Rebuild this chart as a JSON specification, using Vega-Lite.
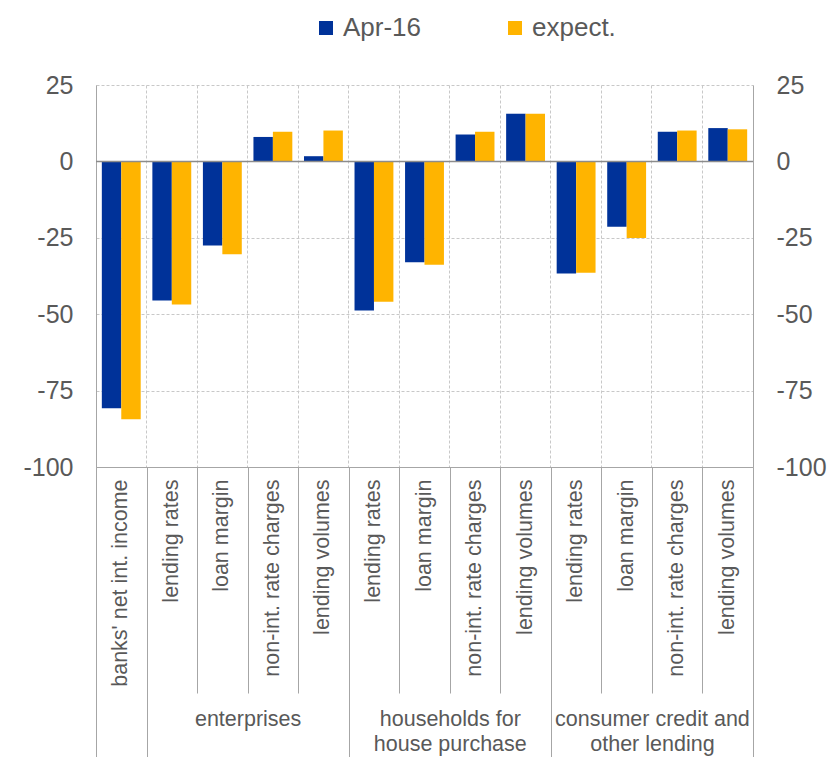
{
  "$schema": "https://vega.github.io/schema/vega-lite/v6.json",
  "width": 657,
  "height": 382,
  "autosize": {"type": "none"},
  "padding": {"left": 96, "top": 85, "right": 84, "bottom": 290},
  "background": "white",
  "config": {
    "view": {"stroke": null},
    "font": "Liberation Sans",
    "axis": {"labelFont": "Liberation Sans", "labelColor": "#595959"},
    "legend": {"labelFont": "Liberation Sans", "labelColor": "#595959"}
  },
  "datasets": {
    "bars": [
      {"cat": "01|banks' net int. income", "series": "Apr-16", "value": -80.8},
      {"cat": "01|banks' net int. income", "series": "expect.", "value": -84.4},
      {"cat": "02|lending rates", "series": "Apr-16", "value": -45.5},
      {"cat": "02|lending rates", "series": "expect.", "value": -46.8},
      {"cat": "03|loan margin", "series": "Apr-16", "value": -27.5},
      {"cat": "03|loan margin", "series": "expect.", "value": -30.4},
      {"cat": "04|non-int. rate charges", "series": "Apr-16", "value": 8.0},
      {"cat": "04|non-int. rate charges", "series": "expect.", "value": 9.7},
      {"cat": "05|lending volumes", "series": "Apr-16", "value": 1.7},
      {"cat": "05|lending volumes", "series": "expect.", "value": 10.1},
      {"cat": "06|lending rates", "series": "Apr-16", "value": -48.8},
      {"cat": "06|lending rates", "series": "expect.", "value": -45.9},
      {"cat": "07|loan margin", "series": "Apr-16", "value": -33.0},
      {"cat": "07|loan margin", "series": "expect.", "value": -33.8},
      {"cat": "08|non-int. rate charges", "series": "Apr-16", "value": 8.8},
      {"cat": "08|non-int. rate charges", "series": "expect.", "value": 9.7},
      {"cat": "09|lending volumes", "series": "Apr-16", "value": 15.6},
      {"cat": "09|lending volumes", "series": "expect.", "value": 15.6},
      {"cat": "10|lending rates", "series": "Apr-16", "value": -36.7},
      {"cat": "10|lending rates", "series": "expect.", "value": -36.4},
      {"cat": "11|loan margin", "series": "Apr-16", "value": -21.4},
      {"cat": "11|loan margin", "series": "expect.", "value": -25.1},
      {"cat": "12|non-int. rate charges", "series": "Apr-16", "value": 9.7},
      {"cat": "12|non-int. rate charges", "series": "expect.", "value": 10.1},
      {"cat": "13|lending volumes", "series": "Apr-16", "value": 10.9},
      {"cat": "13|lending volumes", "series": "expect.", "value": 10.5}
    ],
    "groups": [
      {"group": "enterprises", "c": 3},
      {"group": "households for house purchase", "c": 7},
      {"group": "consumer credit and other lending", "c": 11}
    ]
  },
  "layer": [
    {
      "data": {"name": "bars"},
      "mark": {"type": "bar"},
      "encoding": {
        "x": {
          "field": "cat", "type": "nominal", "sort": null,
          "scale": {"paddingInner": 0, "paddingOuter": 0},
          "axis": {
            "title": null,
            "labelExpr": "split(datum.label, '|')[1]",
            "labelAngle": -90, "labelAlign": "right", "labelBaseline": "middle",
            "labelPadding": 12, "labelFontSize": 21.5, "labelLimit": 0, "labelOverlap": false,
            "ticks": false, "domain": true, "domainColor": "#a6a6a6",
            "grid": true, "bandPosition": 0, "gridColor": "#c8c8c8", "gridDash": [3, 2], "gridWidth": 1
          }
        },
        "xOffset": {"field": "series", "type": "nominal", "scale": {"paddingInner": 0, "paddingOuter": 0.3}},
        "y": {
          "field": "value", "type": "quantitative",
          "scale": {"domain": [-100, 25], "nice": false, "zero": false},
          "axis": {
            "title": null, "values": [-100, -75, -50, -25, 0, 25],
            "labelExpr": "datum.value + ''",
            "labelFontSize": 25, "labelPadding": 23, "ticks": false,
            "domainColor": "#a6a6a6", "gridColor": "#c8c8c8", "gridDash": [3, 2]
          }
        },
        "color": {
          "field": "series", "type": "nominal",
          "scale": {"domain": ["Apr-16", "expect."], "range": ["#003299", "#FFB400"]},
          "legend": {
            "title": null, "orient": "none", "legendX": 217, "legendY": -70,
            "direction": "horizontal", "symbolType": "square", "symbolSize": 196,
            "symbolStrokeWidth": 0, "labelFontSize": 26, "columnPadding": 80, "labelOffset": 4, "padding": 0
          }
        }
      }
    },
    {
      "data": {"values": [{}]},
      "mark": {"type": "rule", "color": "#8c8c8c", "strokeWidth": 1.5},
      "encoding": {
        "y": {"datum": 0, "type": "quantitative", "scale": {"domain": [-100, 25], "nice": false}, "axis": null}
      }
    },
    {
      "data": {"name": "groups"},
      "mark": {"type": "point", "opacity": 0},
      "encoding": {
        "x": {
          "field": "c", "type": "quantitative",
          "scale": {"domain": [0, 13], "nice": false, "zero": false},
          "axis": {
            "orient": "bottom", "title": null, "values": [3, 7, 11],
            "labelExpr": "datum.value == 3 ? 'enterprises' : datum.value == 7 ? ['households for', 'house purchase'] : ['consumer credit and', 'other lending']",
            "offset": 241, "ticks": false, "domain": false, "grid": false,
            "labelBaseline": "top", "labelAlign": "center", "labelPadding": 0, "labelFontSize": 21.5, "labelLineHeight": 25,
            "labelFlush": false, "labelOverlap": false, "labelBound": false, "labelLimit": 0
          }
        },
        "y": {
          "datum": 0, "type": "quantitative",
          "scale": {"domain": [-100, 25], "nice": false},
          "axis": {
            "orient": "right", "title": null, "values": [-100, -75, -50, -25, 0, 25],
            "labelExpr": "datum.value + ''",
            "labelFontSize": 25, "labelPadding": 23, "ticks": false, "grid": false, "domainColor": "#a6a6a6"
          }
        }
      }
    },
    {
      "data": {"name": "groups"},
      "mark": {"type": "point", "opacity": 0},
      "encoding": {
        "x": {
          "field": "c", "type": "quantitative",
          "scale": {"domain": [0, 13], "nice": false, "zero": false},
          "axis": {
            "orient": "bottom", "title": null, "values": [0, 1, 2, 3, 4, 5, 6, 7, 8, 9, 10, 11, 12, 13],
            "labels": false, "domain": false, "grid": false,
            "ticks": true, "tickSize": 226, "tickColor": "#a6a6a6", "tickWidth": 1
          }
        }
      }
    },
    {
      "data": {"name": "groups"},
      "mark": {"type": "point", "opacity": 0},
      "encoding": {
        "x": {
          "field": "c", "type": "quantitative",
          "scale": {"domain": [0, 13], "nice": false, "zero": false},
          "axis": {
            "orient": "bottom", "title": null, "values": [0, 1, 5, 9, 13],
            "labels": false, "domain": false, "grid": false,
            "ticks": true, "tickSize": 290, "tickColor": "#a6a6a6", "tickWidth": 1
          }
        }
      }
    }
  ],
  "resolve": {"scale": {"x": "independent", "y": "independent"}}
}
